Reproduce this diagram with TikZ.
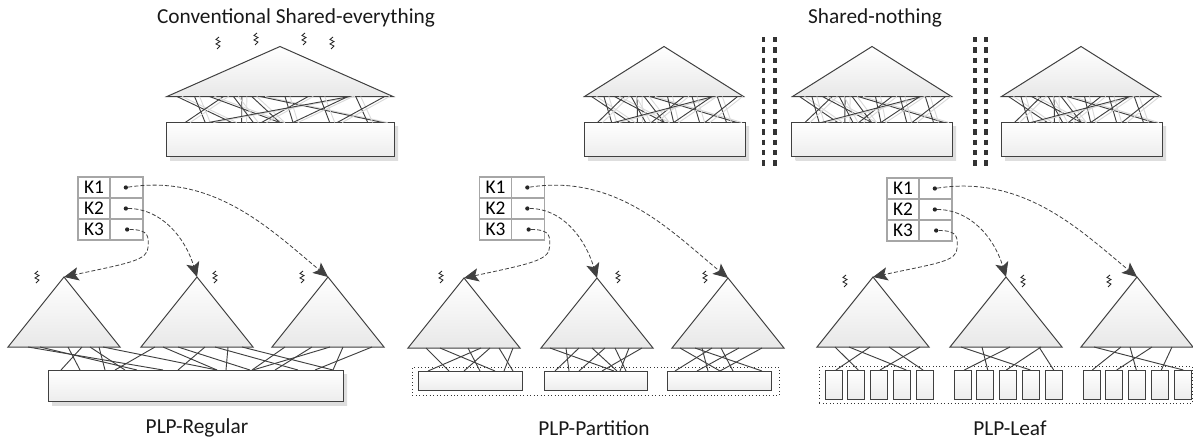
\documentclass[tikz,border=0pt]{standalone}
\usepackage{fontspec}
\setmainfont{Carlito}
\usepackage{xcolor}
\usetikzlibrary{positioning}
\usetikzlibrary{calc}
\usetikzlibrary{shapes.geometric}
\usetikzlibrary{shadows}
\usetikzlibrary{arrows.meta}
\definecolor{inkgray}{HTML}{404040}
\definecolor{cellgray}{HTML}{A6A6A6}
\def\px{0.75pt}
\tikzset{
    tree/.style={isosceles triangle, isosceles triangle stretches, shape border rotate=90, anchor=apex, draw=inkgray, line width=0.75pt, inner sep=0pt, outer sep=0pt, top color=white, bottom color=black!9},
    heap/.style={rectangle, anchor=north west, draw=inkgray, line width=0.72pt, inner sep=0pt, outer sep=0pt, top color=white, bottom color=black!7},
    smallheap/.style={heap},
    shadowheap/.style={heap, drop shadow={shadow xshift=3pt, shadow yshift=-3pt, top color=black!13, bottom color=black!13, draw=none, opacity=1}},
    link/.style={draw=inkgray, line width=0.7pt},
    fadelink/.style={draw=black!15, line width=0.7pt},
    group/.style={rectangle, anchor=north west, draw=black!80, dotted, line width=0.6pt, inner sep=0pt},
    keycell/.style={rectangle, draw=cellgray, line width=1.4pt, inner sep=0pt, outer sep=0pt, minimum height=21*\px, font=\fontsize{14.5}{14.5}\selectfont},
    dotnode/.style={circle, fill=black!85, inner sep=0pt, minimum size=3.2pt},
    pointer/.style={draw=inkgray, line width=0.6pt, dash pattern=on 3pt off 1.6pt, -{Stealth[length=11pt, width=10pt, inset=2.5pt]}},
    wall/.style={draw=black!80, line width=2.3pt, dash pattern=on 4pt off 3.7pt},
    title/.style={font=\fontsize{16}{18}\selectfont, text=black!90},
    thread/.pic={\draw[black!85, line width=0.65pt] (1,-6) -- (-2,-3.5) -- (2,-1.5) -- (-2,1) -- (2,3) -- (-1,6);}
}
\begin{document}
\begin{tikzpicture}[x=0.75pt, y=-0.75pt]
    \useasboundingbox (0,0) rectangle (1193,439);
    % Titles
    \node[title] (LabelSE) at (296,18) {Conventional Shared-everything};
    \node[title] (LabelSN) at (875,18) {Shared-nothing};
    \node[title] (LabelR) at (197,428) {PLP-Regular};
    \node[title] (LabelP) at (594,428) {PLP-Partition};
    \node[title] (LabelL) at (1010,428) {PLP-Leaf};

    % Upper trees and heaps
    \foreach \n/\x/\w/\hx/\hw in {A/280/226/166/228, B/664/159/584/161, C/872/159/791.5/160.5, D/1081/159/1001/161} {
        \node[tree, minimum width=\w*\px, minimum height=50*\px] (Top\n) at (\x,46.5) {};
        \node[shadowheap, minimum width=\hw*\px, minimum height=33.5*\px] (Heap\n) at (\hx,122.5) {};
    }
    % Latch links, same pattern in each upper tree
    \foreach \n in {A,B,C,D} {
        \foreach \a/\b in {.044/.288, .122/.172, .25/.084, .331/.332, .188/.499, .294/.383, .375/.499, .412/.95, .522/.557, .625/.419, .809/.186, .676/.718, .801/.557, .835/.885, .963/.751} {
            \draw[fadelink] ([xshift=5*\px]$(Top\n.left corner)!\a!(Top\n.right corner)$) -- ([xshift=5*\px]$(Heap\n.north west)!\b!(Heap\n.north east)$);
            \draw[link] ($(Top\n.left corner)!\a!(Top\n.right corner)$) -- ($(Heap\n.north west)!\b!(Heap\n.north east)$);
        }
    }
    % Walls
    \foreach \x in {763.5,775,975,986} {
        \draw[wall] (\x,37) -- (\x,168);
    }
    % Threads
    \foreach \x/\y in {218/43, 256/39, 304/39, 332/43, 37/277, 215/277, 302/277, 441/277, 618/277, 705/277, 845/281, 1023/281, 1109/281} {
        \pic at (\x,\y) {thread};
    }

    % Lower trees
    \foreach \n/\x/\y in {R1/64/277, R2/197/277, R3/328/277, P1/464/278, P2/597/278, P3/728/278, L1/873/277, L2/1006/277, L3/1137/277} {
        \node[tree, minimum width=112*\px, minimum height=70*\px] (Tree\n) at (\x,\y) {};
    }
    % Lower heaps
    \node[shadowheap, minimum width=295*\px, minimum height=31*\px] (HeapR) at (48,370) {};
    \node[group, minimum width=367*\px, minimum height=28*\px] (GroupP) at (412,367) {};
    \node[smallheap, minimum width=104*\px, minimum height=19*\px] (HeapP1) at (418,371) {};
    \node[smallheap, minimum width=103*\px, minimum height=19*\px] (HeapP2) at (544,371) {};
    \node[smallheap, minimum width=104*\px, minimum height=19*\px] (HeapP3) at (667,371) {};
    \node[group, minimum width=373*\px, minimum height=37*\px] (GroupL) at (819,366) {};
    \foreach \i/\x in {1/825, 2/847.3, 3/870, 4/893.3, 5/916, 6/954.3, 7/976.7, 8/999.3, 9/1022.3, 10/1045.7, 11/1083.3, 12/1105.7, 13/1128.3, 14/1151.3, 15/1174.3} {
        \node[smallheap, minimum width=17*\px, minimum height=29*\px] (Leaf\i) at (\x,370) {};
    }

    % PLP-Regular links
    \foreach \a/\b in {20/115, 32/89, 60/32, 74/13, 82/77, 91/57, 95/169} {
        \draw[link] ([xshift=\a*\px]TreeR1.left corner) -- ([xshift=\b*\px]HeapR.north west);
    }
    \foreach \a/\b in {14/67, 22/169, 37/202, 64/130, 87/178, 74/250, 101/285} {
        \draw[link] ([xshift=\a*\px]TreeR2.left corner) -- ([xshift=\b*\px]HeapR.north west);
    }
    \foreach \a/\b in {13/204, 40/227, 58/205, 71/285, 100/267} {
        \draw[link] ([xshift=\a*\px]TreeR3.left corner) -- ([xshift=\b*\px]HeapR.north west);
    }
    % PLP-Partition links
    \foreach \a/\b in {18/31, 32/77, 60/62, 73/10, 82/46, 91/95, 105/86} {
        \draw[link] ([xshift=\a*\px]TreeP1.left corner) -- ([xshift=\b*\px]HeapP1.north west);
    }
    \foreach \a/\b in {9/70, 25/25, 38/11, 51/73, 64/35, 74/82, 88/76, 101/58} {
        \draw[link] ([xshift=\a*\px]TreeP2.left corner) -- ([xshift=\b*\px]HeapP2.north west);
    }
    \foreach \a/\b in {8/53, 23/95, 30/41, 40/8, 49/66, 67/30, 90/53} {
        \draw[link] ([xshift=\a*\px]TreeP3.left corner) -- ([xshift=\b*\px]HeapP3.north west);
    }
    % PLP-Leaf links
    \foreach \a/\i/\b in {18/2/11, 32/4/13, 53/1/11, 72/5/7, 103/3/10} {
        \draw[link] ([xshift=\a*\px]TreeL1.left corner) -- ([xshift=\b*\px]Leaf\i.north west);
    }
    \foreach \a/\i/\b in {11/9/8, 32/7/11, 60/6/10, 89/10/8, 91/8/7} {
        \draw[link] ([xshift=\a*\px]TreeL2.left corner) -- ([xshift=\b*\px]Leaf\i.north west);
    }
    \foreach \a/\i/\b in {13/15/9, 40/11/9, 49/13/8, 71/12/11, 91/14/10} {
        \draw[link] ([xshift=\a*\px]TreeL3.left corner) -- ([xshift=\b*\px]Leaf\i.north west);
    }

    % Routing tables with pointers into the trees
    \foreach \n/\x/\y in {R/78/177, P/479.5/177, L/887/178} {
        \node[keycell, minimum width=32*\px, anchor=north west] (\n K1) at (\x,\y) {K1};
        \node[keycell, minimum width=32*\px, below=0pt of \n K1] (\n K2) {K2};
        \node[keycell, minimum width=32*\px, below=0pt of \n K2] (\n K3) {K3};
        \node[keycell, minimum width=33*\px, right=0pt of \n K1] (\n V1) {};
        \node[keycell, minimum width=33*\px, right=0pt of \n K2] (\n V2) {};
        \node[keycell, minimum width=33*\px, right=0pt of \n K3] (\n V3) {};
        \node[dotnode, xshift=-0.5pt] (\n D1) at (\n V1) {};
        \node[dotnode, xshift=-0.5pt] (\n D2) at (\n V2) {};
        \node[dotnode, xshift=0.5pt] (\n D3) at (\n V3) {};
        \draw[pointer] (\n D1) .. controls +(90,-14) and +(-55,-45) .. (Tree\n3.apex);
        \draw[pointer] (\n D2) .. controls +(35,0) and +(-12,-40) .. (Tree\n2.apex);
        \draw[pointer] (\n D3) .. controls +(23,0) and +(0,-9) .. ++(21,17) .. controls +(0,14) and +(65,-14) .. (Tree\n1.apex);
    }
\end{tikzpicture}
\end{document}
